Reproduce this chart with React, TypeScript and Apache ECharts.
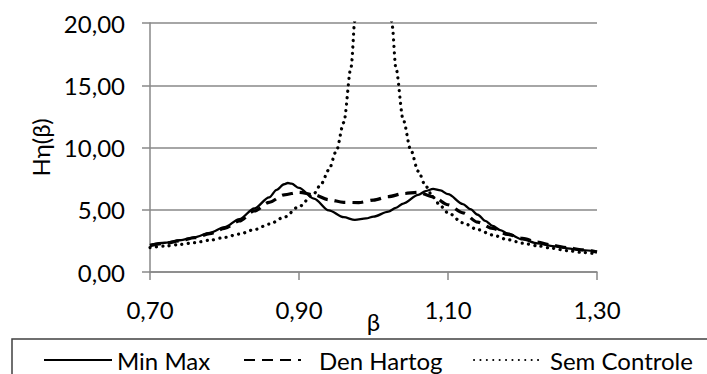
import React, { useEffect, useRef } from "react";
import * as echarts from "echarts";

const xTicks = [0.7, 0.9, 1.1, 1.3];
const yMin = 0;
const yMax = 20;
const yStep = 5;

const betaMinMax = [0.70, 0.72, 0.74, 0.76, 0.78, 0.80, 0.82, 0.84, 0.86, 0.87, 0.88, 0.885, 0.89, 0.90, 0.92, 0.94, 0.96, 0.975, 0.99, 1.00, 1.02, 1.03, 1.04, 1.06, 1.07, 1.08, 1.09, 1.10, 1.12, 1.13, 1.14, 1.15, 1.16, 1.17, 1.18, 1.20, 1.22, 1.24, 1.26, 1.28, 1.30];
const minMax = [2.17, 2.35, 2.55, 2.8, 3.15, 3.6, 4.25, 5.1, 6.0, 6.6, 7.05, 7.15, 7.1, 6.75, 5.9, 4.95, 4.4, 4.18, 4.3, 4.45, 4.85, 5.15, 5.5, 6.2, 6.5, 6.67, 6.55, 6.25, 5.45, 5.05, 4.6, 4.1, 3.7, 3.37, 3.1, 2.62, 2.3, 2.08, 1.9, 1.75, 1.63];

const betaDenHartog = [0.70, 0.72, 0.74, 0.76, 0.78, 0.80, 0.82, 0.84, 0.86, 0.88, 0.90, 0.92, 0.94, 0.96, 0.98, 1.00, 1.02, 1.04, 1.06, 1.08, 1.10, 1.12, 1.14, 1.16, 1.18, 1.20, 1.22, 1.24, 1.26, 1.28, 1.30];
const denHartog = [2.12, 2.3, 2.5, 2.75, 3.08, 3.5, 4.1, 4.9, 5.6, 6.2, 6.4, 6.2, 5.8, 5.6, 5.57, 5.78, 6.05, 6.3, 6.4, 6.05, 5.4, 4.75, 4.0, 3.5, 3.02, 2.7, 2.4, 2.15, 1.95, 1.78, 1.6];

const betaSemControle = [0.70, 0.72, 0.74, 0.76, 0.78, 0.80, 0.82, 0.84, 0.86, 0.88, 0.90, 0.92, 0.93, 0.94, 0.95, 0.96, 0.97, 0.975, 0.98, 0.99, 1.00, 1.01, 1.02, 1.025, 1.03, 1.04, 1.05, 1.06, 1.07, 1.08, 1.09, 1.10, 1.12, 1.14, 1.16, 1.18, 1.20, 1.22, 1.24, 1.26, 1.28, 1.30];
const semControle = [1.96, 2.08, 2.21, 2.36, 2.55, 2.78, 3.05, 3.4, 3.84, 4.4, 5.25, 6.3, 7.1, 8.2, 9.7, 12.0, 16.5, 20.2, 25, 50, 80, 50, 24.8, 19.8, 16.4, 12.2, 9.8, 8.1, 6.9, 6.0, 5.3, 4.75, 3.95, 3.4, 2.97, 2.6, 2.32, 2.1, 1.9, 1.72, 1.57, 1.45];

const seriesNames = ["Min Max", "Den Hartog", "Sem Controle"];

const FONT = "Lato";
const FS = 24;

function pairs(xs: number[], ys: number[]) {
  return xs.map((x, i) => [x, ys[i]]);
}

export default function App() {
  const ref = useRef<HTMLDivElement>(null);
  useEffect(() => {
    if (!ref.current) return;
    const chart = echarts.init(ref.current, undefined, { renderer: "svg" });
    const legendBase = {
      orient: "horizontal",
      top: 348,
      padding: 0,
      itemHeight: 12,
      itemStyle: { color: "transparent", borderWidth: 0, opacity: 0 },
      textStyle: { fontFamily: FONT, fontSize: FS, color: "#000" },
    };
    chart.setOption({
      animation: false,
      backgroundColor: "#fff",
      grid: { left: 150, top: 23, width: 447, height: 249 },
      xAxis: {
        type: "value",
        min: 0.7,
        max: 1.3,
        name: "β",
        nameLocation: "middle",
        nameGap: 37,
        nameMoveOverlap: false,
        nameTextStyle: { fontFamily: FONT, fontSize: FS, color: "#000" },
        axisLine: { show: true, lineStyle: { color: "#888", width: 1.5 } },
        axisTick: { show: true, length: 8, lineStyle: { color: "#888", width: 1.5 }, customValues: xTicks },
        axisLabel: {
          customValues: xTicks,
          margin: 25,
          fontFamily: FONT,
          fontSize: FS,
          color: "#000",
          formatter: (v: number) => v.toFixed(2).replace(".", ","),
        },
        splitLine: { show: false },
      },
      yAxis: {
        type: "value",
        min: yMin,
        max: yMax,
        interval: yStep,
        name: "Hη(β)",
        nameLocation: "middle",
        nameGap: 98,
        nameMoveOverlap: false,
        nameTextStyle: { fontFamily: FONT, fontSize: FS, color: "#000" },
        axisLine: { show: true, lineStyle: { color: "#888", width: 1.5 } },
        axisTick: { show: true, length: 8, lineStyle: { color: "#888", width: 1.5 } },
        axisLabel: {
          margin: 25,
          fontFamily: FONT,
          fontSize: FS,
          color: "#000",
          formatter: (v: number) => v.toFixed(2).replace(".", ","),
        },
        splitLine: { show: true, lineStyle: { color: "#888", width: 1.5 } },
      },
      legend: [
        { ...legendBase, data: [seriesNames[0]], left: 43, itemWidth: 68, itemGap: 0 },
        { ...legendBase, data: [seriesNames[1]], left: 243, itemWidth: 57, itemGap: 0, textStyle: { ...legendBase.textStyle, padding: [0, 0, 0, 13] } },
        { ...legendBase, data: [seriesNames[2]], left: 473, itemWidth: 65, itemGap: 0, textStyle: { ...legendBase.textStyle, padding: [0, 0, 0, 6] } },
      ],
      graphic: [
        {
          type: "rect",
          shape: { x: 12, y: 339, width: 800, height: 100 },
          style: { fill: "none", stroke: "#404040", lineWidth: 1.5 },
          silent: true,
        },
      ],
      series: [
        {
          name: seriesNames[0],
          type: "line",
          data: pairs(betaMinMax, minMax),
          symbol: "none",
          smooth: 0.3,
          smoothMonotone: "x",
          lineStyle: { color: "#000", width: 2.3 },
          itemStyle: { color: "#000" },
        },
        {
          name: seriesNames[1],
          type: "line",
          data: pairs(betaDenHartog, denHartog),
          symbol: "none",
          smooth: 0.3,
          smoothMonotone: "x",
          lineStyle: { color: "#000", width: 3.2, type: [11, 7] },
          itemStyle: { color: "#000" },
        },
        {
          name: seriesNames[2],
          type: "line",
          data: pairs(betaSemControle, semControle),
          symbol: "none",
          smooth: 0.3,
          smoothMonotone: "x",
          clip: true,
          lineStyle: { color: "#000", width: 3.2, type: [0.1, 6.3], cap: "round" },
          itemStyle: { color: "#000" },
        },
      ],
    });
    return () => chart.dispose();
  }, []);
  return (
    <div
      ref={ref}
      style={{ position: "fixed", left: 0, top: 0, width: 707, height: 374, background: "#fff" }}
    />
  );
}
